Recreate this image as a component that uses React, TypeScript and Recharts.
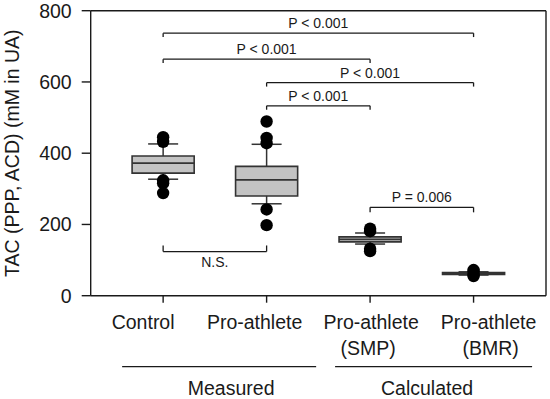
import React from "react";
import {
  ComposedChart,
  XAxis,
  YAxis,
  Scatter,
  ReferenceArea,
  ReferenceLine,
} from "recharts";

// ---------- data ----------
const categoryLines: string[][] = [
  ["Control"],
  ["Pro-athlete"],
  ["Pro-athlete", "(SMP)"],
  ["Pro-athlete", "(BMR)"],
];
const categoryPos = [1, 2, 3, 4];

const q1 = [344, 280, 151, 60];
const median = [372, 325, 158, 62];
const q3 = [392, 363, 165, 65];
const whiskerLow = [327, 258, 145, 58];
const whiskerHigh = [426, 425, 176, 67];

const outliersControl = [445, 432, 324, 316, 288];
const outliersProAthlete = [489, 443, 428, 242, 198];
const outliersSMP = [188, 181, 132, 125];
const outliersBMR = [72, 68, 58, 55];

const yTicks = [0, 200, 400, 600, 800];

const bracketFrom = [1, 1, 2, 2, 3];
const bracketTo = [4, 3, 4, 3, 4];
const bracketY = [737, 664, 598, 533, 248];
const bracketTick = [11, 11, 11, 11, 14];
const bracketLabels = ["P < 0.001", "P < 0.001", "P < 0.001", "P < 0.001", "P = 0.006"];

const nsFrom = 1;
const nsTo = 2;
const nsY = 124;
const nsTick = 17;
const nsLabel = "N.S.";

const groupLabels = ["Measured", "Calculated"];

// ---------- style / layout constants ----------
const FONT = "'Liberation Sans', Arial, Helvetica, sans-serif";
const INK = "#1a1a1a";
const BOX_FILL = "#c3c3c3";
const BOX_STROKE = "#333333";
const BOX_HALF = 0.3;
const CAP_HALF = 0.145;
const LABEL_SHIFT = [-20, -12, 1, 15];
const LINE2_SHIFT = [0, 0, -3, 2];

const outlierData = [
  ...outliersControl.map((v) => ({ x: 1, y: v })),
  ...outliersProAthlete.map((v) => ({ x: 2, y: v })),
  ...outliersSMP.map((v) => ({ x: 3, y: v })),
  ...outliersBMR.map((v) => ({ x: 4, y: v })),
];

const XTick = (props: any) => {
  const { x, y, payload } = props;
  const i = categoryPos.indexOf(payload.value);
  if (i < 0) return null;
  const lines = categoryLines[i];
  return (
    <g>
      {lines.map((t, k) => (
        <text
          key={k}
          x={x + LABEL_SHIFT[i] + (k === 1 ? LINE2_SHIFT[i] : 0)}
          y={y + 26 + k * 26.6}
          textAnchor="middle"
          fontFamily={FONT}
          fontSize={19.5}
          fill={INK}
        >
          {t}
        </text>
      ))}
      {i === 0 && (
        <g>
          <line x1={x - 41} x2={x + 153} y1={y + 64} y2={y + 64} stroke={INK} strokeWidth={1.3} />
          <text x={x + 68} y={y + 92.5} textAnchor="middle" fontFamily={FONT} fontSize={19.5} fill={INK}>
            {groupLabels[0]}
          </text>
        </g>
      )}
      {i === 2 && (
        <g>
          <line x1={x - 35} x2={x + 162} y1={y + 64} y2={y + 64} stroke={INK} strokeWidth={1.3} />
          <text x={x + 57} y={y + 92.5} textAnchor="middle" fontFamily={FONT} fontSize={19.5} fill={INK}>
            {groupLabels[1]}
          </text>
        </g>
      )}
    </g>
  );
};

const YLabel = (props: any) => {
  const vb = props.viewBox || { x: 0, y: 0, width: 0, height: 0 };
  const cx = 12.5;
  const cy = vb.y + vb.height / 2;
  return (
    <text
      x={cx}
      y={cy}
      transform={`rotate(-90, ${cx}, ${cy})`}
      textAnchor="middle"
      dominantBaseline="central"
      fontFamily={FONT}
      fontSize={19.5}
      fill={INK}
    >
      TAC (PPP, ACD) (mM in UA)
    </text>
  );
};

const Dot = (props: any) => {
  const { cx, cy } = props;
  if (cx == null || cy == null) return null;
  return <circle cx={cx} cy={cy} r={6.2} fill="#000" />;
};

export default function App() {
  return (
    <div style={{ position: "absolute", left: 0, top: 0, width: 550, height: 399, background: "#fff" }}>
      <ComposedChart
        width={550}
        height={399}
        margin={{ top: 10.7, right: 4, left: 0, bottom: 0 }}
        style={{ fontFamily: FONT }}
      >
        <XAxis
          type="number"
          dataKey="x"
          domain={[0.3, 4.7]}
          ticks={categoryPos}
          allowDataOverflow
          height={103.3}
          tickSize={7}
          tickMargin={0}
          stroke={INK}
          strokeWidth={1.4}
          tick={<XTick />}
          interval={0}
        />
        <YAxis
          type="number"
          domain={[0, 800]}
          ticks={yTicks}
          allowDataOverflow
          width={90.7}
          tickSize={9}
          tickMargin={10}
          stroke={INK}
          strokeWidth={1.4}
          tick={{ fontSize: 19.5, fill: INK, fontFamily: FONT }}
          label={<YLabel />}
        />

        {/* frame top & right */}
        <ReferenceLine y={800} stroke={INK} strokeWidth={1.4} ifOverflow="visible" />
        <ReferenceLine x={4.7} stroke={INK} strokeWidth={1.4} ifOverflow="visible" />

        {/* whiskers */}
        {categoryPos.map((c, i) => (
          <ReferenceLine
            key={`wu${i}`}
            segment={[{ x: c, y: q3[i] }, { x: c, y: whiskerHigh[i] }]}
            stroke={BOX_STROKE}
            strokeWidth={1.5}
            ifOverflow="visible"
          />
        ))}
        {categoryPos.map((c, i) => (
          <ReferenceLine
            key={`wl${i}`}
            segment={[{ x: c, y: whiskerLow[i] }, { x: c, y: q1[i] }]}
            stroke={BOX_STROKE}
            strokeWidth={1.5}
            ifOverflow="visible"
          />
        ))}
        {categoryPos.map((c, i) => (
          <ReferenceLine
            key={`cu${i}`}
            segment={[{ x: c - CAP_HALF, y: whiskerHigh[i] }, { x: c + CAP_HALF, y: whiskerHigh[i] }]}
            stroke={BOX_STROKE}
            strokeWidth={1.5}
            ifOverflow="visible"
          />
        ))}
        {categoryPos.map((c, i) => (
          <ReferenceLine
            key={`cl${i}`}
            segment={[{ x: c - CAP_HALF, y: whiskerLow[i] }, { x: c + CAP_HALF, y: whiskerLow[i] }]}
            stroke={BOX_STROKE}
            strokeWidth={1.5}
            ifOverflow="visible"
          />
        ))}

        {/* boxes */}
        {categoryPos.map((c, i) => (
          <ReferenceArea
            key={`box${i}`}
            x1={c - BOX_HALF}
            x2={c + BOX_HALF}
            y1={q1[i]}
            y2={q3[i]}
            fill={BOX_FILL}
            fillOpacity={1}
            stroke={BOX_STROKE}
            strokeWidth={1.6}
            ifOverflow="visible"
          />
        ))}
        {categoryPos.map((c, i) => (
          <ReferenceLine
            key={`med${i}`}
            segment={[{ x: c - BOX_HALF, y: median[i] }, { x: c + BOX_HALF, y: median[i] }]}
            stroke={BOX_STROKE}
            strokeWidth={1.8}
            ifOverflow="visible"
          />
        ))}

        {/* significance brackets */}
        {bracketY.map((by, i) => (
          <ReferenceLine
            key={`bh${i}`}
            segment={[{ x: bracketFrom[i], y: by }, { x: bracketTo[i], y: by }]}
            stroke={INK}
            strokeWidth={1.3}
            ifOverflow="visible"
            label={{
              value: bracketLabels[i],
              position: "top",
              offset: 5,
              fill: INK,
              fontSize: 14,
              fontFamily: FONT,
            }}
          />
        ))}
        {bracketY.map((by, i) => (
          <ReferenceLine
            key={`bl${i}`}
            segment={[{ x: bracketFrom[i], y: by }, { x: bracketFrom[i], y: by - bracketTick[i] }]}
            stroke={INK}
            strokeWidth={1.3}
            ifOverflow="visible"
          />
        ))}
        {bracketY.map((by, i) => (
          <ReferenceLine
            key={`br${i}`}
            segment={[{ x: bracketTo[i], y: by }, { x: bracketTo[i], y: by - bracketTick[i] }]}
            stroke={INK}
            strokeWidth={1.3}
            ifOverflow="visible"
          />
        ))}
        <ReferenceLine
          segment={[{ x: nsFrom, y: nsY }, { x: nsTo, y: nsY }]}
          stroke={INK}
          strokeWidth={1.3}
          ifOverflow="visible"
          label={{ value: nsLabel, position: "bottom", offset: 6, fill: INK, fontSize: 14, fontFamily: FONT }}
        />
        <ReferenceLine
          segment={[{ x: nsFrom, y: nsY }, { x: nsFrom, y: nsY + nsTick }]}
          stroke={INK}
          strokeWidth={1.3}
          ifOverflow="visible"
        />
        <ReferenceLine
          segment={[{ x: nsTo, y: nsY }, { x: nsTo, y: nsY + nsTick }]}
          stroke={INK}
          strokeWidth={1.3}
          ifOverflow="visible"
        />

        <Scatter data={outlierData} dataKey="y" shape={<Dot />} isAnimationActive={false} />
      </ComposedChart>
    </div>
  );
}
